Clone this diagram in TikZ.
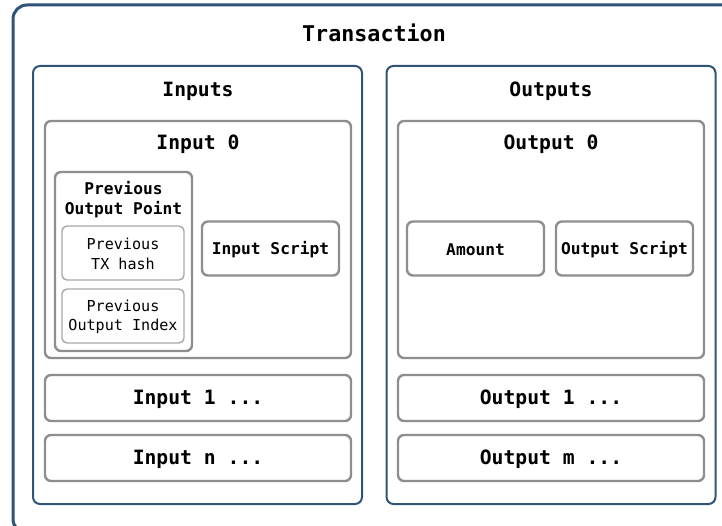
\documentclass[tikz,border=0pt]{standalone}
\usepackage{fontspec}
\setmonofont{DejaVu Sans Mono}
\definecolor{navy}{HTML}{2F5478}
\definecolor{greyline}{HTML}{8E8E8E}
\definecolor{lightline}{HTML}{A8A8A8}
\tikzset{
  outerbox/.style={draw=navy, line width=3pt, rounded corners=14pt, inner sep=0pt},
  groupbox/.style={draw=navy, line width=2pt, rounded corners=7pt, inner sep=0pt, fill=white},
  itembox/.style={draw=greyline, line width=2.4pt, rounded corners=6pt, inner sep=0pt, fill=white},
  leafbox/.style={draw=lightline, line width=1.4pt, rounded corners=5pt, inner sep=0pt, fill=white},
  ttitle/.style={font=\ttfamily\bfseries\fontsize{21.7}{24}\selectfont, inner sep=0pt, yshift=-1.5pt},
  htitle/.style={font=\ttfamily\bfseries\fontsize{19.7}{22}\selectfont, inner sep=0pt, yshift=-1.5pt},
  mlabel/.style={font=\ttfamily\bfseries\fontsize{16.2}{20}\selectfont, inner sep=0pt, align=center, yshift=-1pt},
  slabel/.style={font=\ttfamily\fontsize{15.1}{19.5}\selectfont, inner sep=0pt, align=center, yshift=-1pt},
}
\begin{document}
\begin{tikzpicture}[x=1pt,y=-1pt]
\useasboundingbox (0,0) rectangle (722,526);
\clip (0,0) rectangle (722,526);
\fill[white] (0,0) rectangle (722,526);
% outer transaction box (cropped at right and bottom)
\node[outerbox, minimum width=727pt, minimum height=528pt] (tx) at (376.5,269) {};
\node[ttitle] (txt) at (374,31) {Transaction};
% inputs / outputs groups
\node[groupbox, minimum width=329pt, minimum height=438pt] (inputs) at (197.5,285) {};
\node[htitle] (inputsT) at (198,90) {Inputs};
\node[groupbox, minimum width=329pt, minimum height=438pt] (outputs) at (551,285) {};
\node[htitle] (outputsT) at (551,90) {Outputs};
% input 0
\node[itembox, minimum width=306pt, minimum height=237pt] (in0) at (198,239.5) {};
\node[htitle] (in0T) at (198,143) {Input 0};
\node[itembox, minimum width=137pt, minimum height=179pt] (pop) at (123.5,261.5) {};
\node[mlabel] (popT) at (123.5,199) {Previous\\Output Point};
\node[leafbox, minimum width=122pt, minimum height=54pt] (ptx) at (123,253) {};
\node[slabel] (ptxT) at (ptx) {Previous\\TX hash};
\node[leafbox, minimum width=122pt, minimum height=54pt] (pidx) at (123,316) {};
\node[slabel] (pidxT) at (pidx) {Previous\\Output Index};
\node[itembox, minimum width=137pt, minimum height=54pt] (iscr) at (270.5,248.5) {};
\node[mlabel] (iscrT) at (iscr) {Input Script};
\node[itembox, minimum width=306pt, minimum height=46pt] (in1) at (198,398) {};
\node[htitle] (in1T) at (in1) {Input 1 ...};
\node[itembox, minimum width=306pt, minimum height=46pt] (inn) at (198,458) {};
\node[htitle] (innT) at (inn) {Input n ...};
% output 0
\node[itembox, minimum width=306pt, minimum height=237pt] (out0) at (551,239.5) {};
\node[htitle] (out0T) at (551,143) {Output 0};
\node[itembox, minimum width=137pt, minimum height=54pt] (amt) at (475.5,248.5) {};
\node[mlabel] (amtT) at (amt) {Amount};
\node[itembox, minimum width=137pt, minimum height=54pt] (oscr) at (624.5,248.5) {};
\node[mlabel] (oscrT) at (oscr) {Output Script};
\node[itembox, minimum width=306pt, minimum height=46pt] (out1) at (551,398) {};
\node[htitle] (out1T) at (out1) {Output 1 ...};
\node[itembox, minimum width=306pt, minimum height=46pt] (outm) at (551,458) {};
\node[htitle] (outmT) at (outm) {Output m ...};
\end{tikzpicture}
\end{document}
